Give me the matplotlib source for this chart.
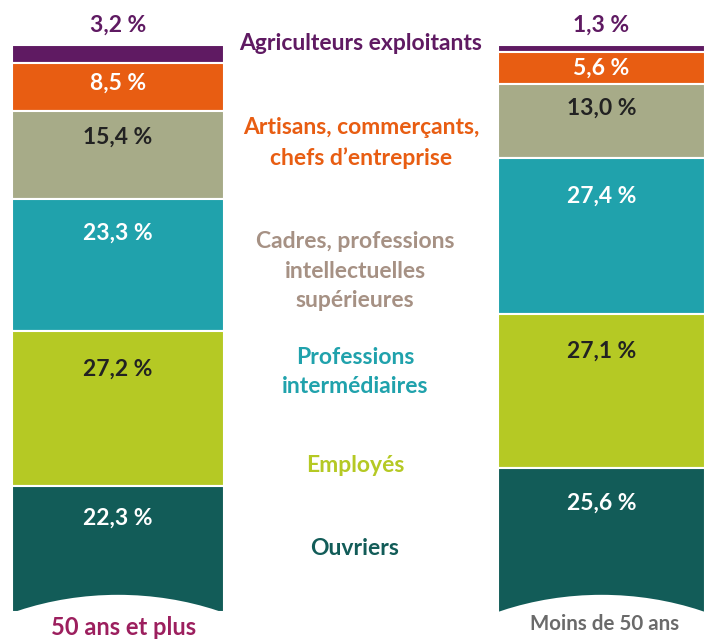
import matplotlib.pyplot as plt
from matplotlib.patches import Ellipse

# categories (top to bottom) and shares in %
categories = ['Agriculteurs exploitants',
              'Artisans, commerçants,\nchefs d\u2019entreprise',
              'Cadres, professions\nintellectuelles\nsupérieures',
              'Professions\nintermédiaires',
              'Employés',
              'Ouvriers']
groups = ['50 ans et plus', 'Moins de 50 ans']
share_50plus = [3.2, 8.5, 15.4, 23.3, 27.2, 22.3]
share_under50 = [1.3, 5.6, 13.0, 27.4, 27.1, 25.6]

colors = ['#5f1a62', '#e85d12', '#a7ab88', '#20a2ac', '#b5c924', '#125c58']
label_colors = ['#5f1a62', 'white', '#222222', 'white', '#222222', 'white']
cat_text_colors = ['#5f1a62', '#e85d12', '#a69184', '#20a2ac', '#b5c924', '#125c58']
cat_text_x = [361, 361, 355, 355, 355, 355]
cat_text_y = [-0.2, 17.3, 39.8, 57.6, 74.1, 88.6]

plt.rcParams['font.family'] = ['Lato', 'DejaVu Sans']

fig = plt.figure(figsize=(7.05, 6.39), dpi=100)
# axes mapped so that x is in pixels, y in percent (0 at top of bars)
ax = fig.add_axes([0, 26 / 639, 1, 568 / 639])
ax.set_xlim(0, 705)
ax.set_ylim(100, 0)
ax.axis('off')

bar_x = [118, 601.5]
bar_w = [212, 207]

for gi, vals in enumerate([share_50plus, share_under50]):
    top = 0
    for i, v in enumerate(vals):
        ax.bar(bar_x[gi], v, bottom=top, width=bar_w[gi], color=colors[i],
               edgecolor='white', linewidth=1.5, zorder=2)
        txt = f'{v:.1f} %'.replace('.', ',')
        if i == 0:
            ty = -3.5
        else:
            ty = top + min(v / 2, 2 + 0.17 * v)
        ax.text(bar_x[gi], ty, txt, ha='center', va='center', fontsize=16.5,
                fontweight='bold', color=label_colors[i], zorder=5, clip_on=False)
        top += v
    # curved white cut at the bottom of each bar
    ax.add_patch(Ellipse((bar_x[gi], 96.8 + 36.5), width=520, height=73,
                         facecolor='white', edgecolor='none', zorder=3, clip_on=False))

for i, cat in enumerate(categories):
    ax.text(cat_text_x[i], cat_text_y[i], cat, ha='center', va='center', fontsize=16.5,
            fontweight='bold', color=cat_text_colors[i], linespacing=1.5,
            zorder=5, clip_on=False)

ax.text(bar_x[0] + 6, 102.5, groups[0], ha='center', va='center', fontsize=17,
        fontweight='bold', color='#9c1f5e', zorder=5, clip_on=False)
ax.text(bar_x[1] + 3, 102.0, groups[1], ha='center', va='center', fontsize=14.8,
        fontweight='bold', color='#6a6a6a', zorder=5, clip_on=False)

fig.savefig('out.png', dpi=100)
